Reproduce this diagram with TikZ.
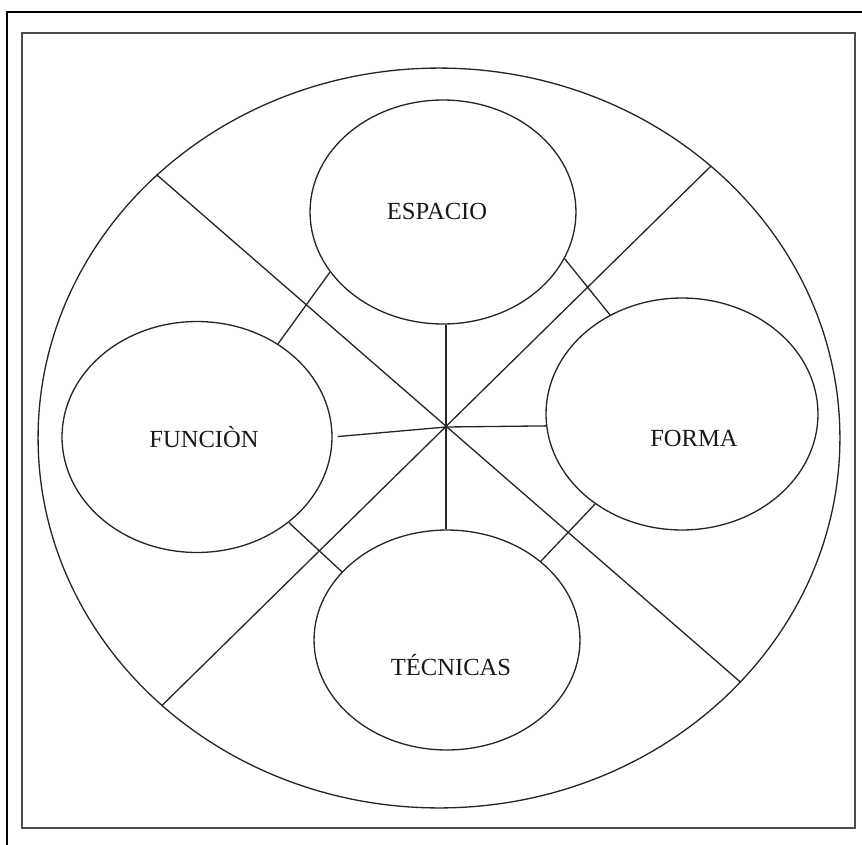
\documentclass[tikz,border=0pt]{standalone}
\usepackage{fontspec}
\setmainfont{Liberation Serif}
\usetikzlibrary{shapes.geometric}

\begin{document}
\begin{tikzpicture}[
    x=0.02cm, y=-0.02cm,
    font=\fontsize{14}{16}\selectfont,
    frame/.style={line width=1.1pt},
    blob/.style={ellipse, draw=black!85, line width=0.75pt, inner sep=0pt},
    word/.style={text=black!90, inner sep=1pt},
    link/.style={draw=black!85, line width=0.75pt}
]
\useasboundingbox (0,0) rectangle (862,845);
\clip (0,0) rectangle (862,845);

% frames
\draw[frame, black] (7,12) rectangle (880,870);
\draw[frame, black!70] (22,33) rectangle (855,828);

% ellipses
\node[blob, minimum width=16.04cm, minimum height=14.8cm] (big) at (439,438) {};
\node[blob, minimum width=5.32cm, minimum height=4.48cm] (espacio) at (443,212) {};
\node[blob, minimum width=5.4cm, minimum height=4.62cm] (funcion) at (197,437) {};
\node[blob, minimum width=5.44cm, minimum height=4.64cm] (forma) at (682,414) {};
\node[blob, minimum width=5.32cm, minimum height=4.4cm] (tecnicas) at (447,640) {};

% labels
\node[word] (tEspacio) at (437,211) {ESPACIO};
\node[word] (tFuncion) at (204,437) {FUNCIÒN};
\node[word] (tForma) at (694,438) {FORMA};
\node[word] (tTecnicas) at (451,665) {TÉCNICAS};

% diagonals
\coordinate (hub) at (446,427);
\draw[link] (big.137) -- (big.321);
\draw[link] (big.224) -- (big.45);

% spokes
\draw[link] (hub) -- (hub |- espacio.south);
\draw[link] (hub) -- (hub |- tecnicas.north);
\draw[link, shorten >=0.1cm] (hub) -- (funcion.east);
\draw[link] (hub) -- (forma.185);

% short links
\draw[link] (espacio.208) -- (funcion.49);
\draw[link] (espacio.339) -- (forma.126);
\draw[link] (funcion.317) -- (tecnicas.147);
\draw[link] (forma.226) -- (tecnicas.40);
\end{tikzpicture}
\end{document}
